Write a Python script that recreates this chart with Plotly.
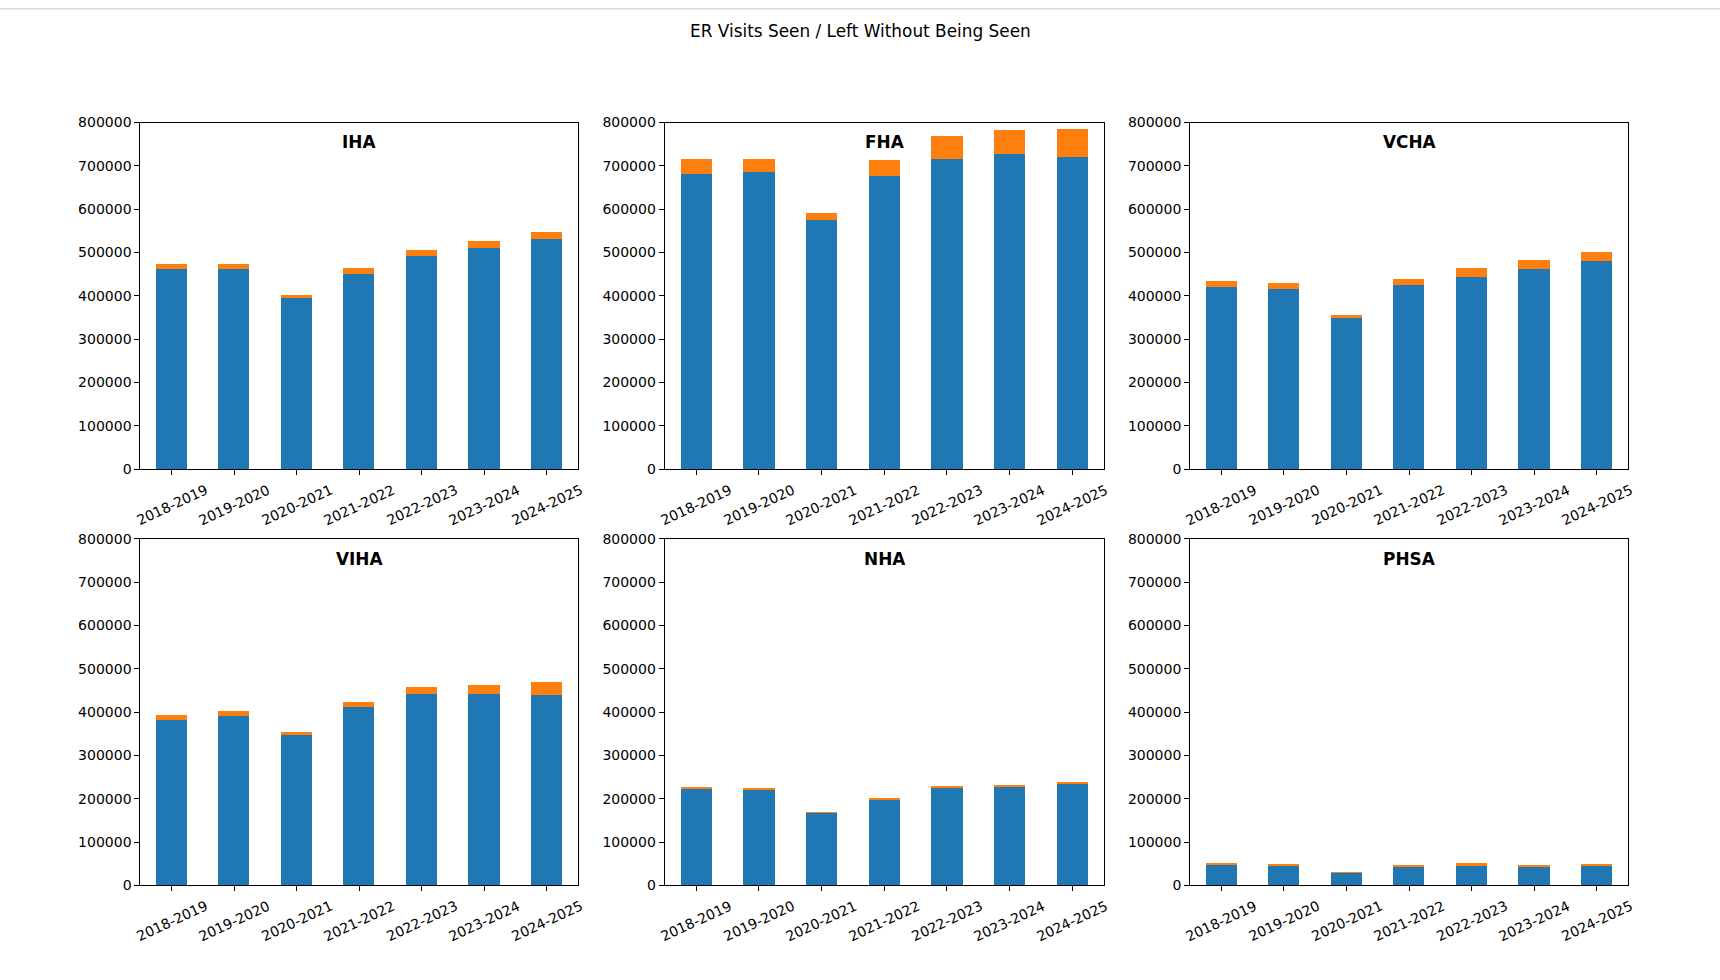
import plotly.graph_objects as go

years = ["2018-2019", "2019-2020", "2020-2021", "2021-2022", "2022-2023", "2023-2024", "2024-2025"]
regions = ["IHA", "FHA", "VCHA", "VIHA", "NHA", "PHSA"]

seen_IHA = [464000, 464000, 395000, 452000, 492000, 512000, 533000]
lwbs_IHA = [11000, 11000, 9000, 14000, 16000, 16000, 16000]
seen_FHA = [683000, 686000, 577000, 678000, 718000, 729000, 722000]
lwbs_FHA = [35000, 32000, 16000, 37000, 53000, 56000, 65000]
seen_VCHA = [422000, 417700, 350800, 427000, 445400, 463800, 482300]
lwbs_VCHA = [14000, 13800, 6900, 13800, 20600, 20800, 20700]
seen_VIHA = [383000, 392300, 348500, 413000, 443000, 443000, 440800]
lwbs_VIHA = [11600, 11500, 6900, 11600, 16200, 20800, 30000]
seen_NHA = [224000, 221500, 168000, 198500, 226000, 228500, 235400]
lwbs_NHA = [2000, 2500, 500, 2300, 4800, 4500, 4600]
seen_PHSA = [49200, 46200, 30000, 43800, 43800, 43800, 43800]
lwbs_PHSA = [1600, 2300, 500, 2400, 7000, 2400, 4700]

y_ticks = [0, 100000, 200000, 300000, 400000, 500000, 600000, 700000, 800000]
title = "ER Visits Seen / Left Without Being Seen"

seen = [seen_IHA, seen_FHA, seen_VCHA, seen_VIHA, seen_NHA, seen_PHSA]
lwbs = [lwbs_IHA, lwbs_FHA, lwbs_VCHA, lwbs_VIHA, lwbs_NHA, lwbs_PHSA]

W, H = 1720, 980
BLUE = "#1f77b4"
ORANGE = "#ff7f0e"
FONT = "DejaVu Sans"

# vertical correction for the capture (observed = A*y + B)
A, B = 0.9838, 7.75


def Y(px):
    """target pixel row (from top) -> paper fraction"""
    return 1 - ((px - B) / A) / H


col_px = [(140.4, 578.1), (664.7, 1103.5), (1190.2, 1627.9)]
row_px = [(122.3, 469.0), (538.7, 885.2)]

fig = go.Figure()
annotations = []
layout_axes = {}

for i, reg in enumerate(regions):
    r, c = divmod(i, 3)
    n = i + 1
    xa = "x" if n == 1 else f"x{n}"
    ya = "y" if n == 1 else f"y{n}"
    xkey = "xaxis" if n == 1 else f"xaxis{n}"
    ykey = "yaxis" if n == 1 else f"yaxis{n}"
    x0, x1 = col_px[c]
    yt, yb = row_px[r]
    xd = [x0 / W, x1 / W]
    yd = [Y(yb), Y(yt)]

    fig.add_trace(go.Bar(x=years, y=seen[i], marker=dict(color=BLUE, line=dict(width=0)),
                         width=0.5, xaxis=xa, yaxis=ya, showlegend=False, name="Seen"))
    fig.add_trace(go.Bar(x=years, y=lwbs[i], marker=dict(color=ORANGE, line=dict(width=0)),
                         width=0.5, xaxis=xa, yaxis=ya, showlegend=False, name="LWBS"))

    layout_axes[xkey] = dict(domain=xd, anchor=ya, type="category", range=[-0.5, 6.5],
                             showline=True, linecolor="black", linewidth=1.1, mirror=True,
                             ticks="outside", ticklen=5, tickwidth=1.1, tickcolor="black",
                             showticklabels=False, showgrid=False, zeroline=False, fixedrange=True)
    layout_axes[ykey] = dict(domain=yd, anchor=xa, range=[0, 800000], tickvals=y_ticks,
                             ticktext=[str(v) for v in y_ticks],
                             showline=True, linecolor="black", linewidth=1.1, mirror=True,
                             ticks="outside", ticklen=5, tickwidth=1.1, tickcolor="black",
                             tickfont=dict(family=FONT, size=14, color="black"),
                             showgrid=False, zeroline=False, fixedrange=True)

    # panel title
    annotations.append(dict(text=f"<b>{reg}</b>", x=(xd[0] + xd[1]) / 2, y=Y(yt + 19.7),
                            xref="paper", yref="paper", xanchor="center", yanchor="middle",
                            showarrow=False, font=dict(family=FONT, size=16.9, color="black")))
    # rotated x tick labels
    for yr in years:
        annotations.append(dict(text=yr, x=yr, xref=xa, y=Y(yb + 9.8), yref="paper",
                                xanchor="center", yanchor="top", textangle=-25, showarrow=False,
                                font=dict(family=FONT, size=14, color="black")))

annotations.append(dict(text=title, x=0.5, y=Y(30.7), xref="paper", yref="paper",
                        xanchor="center", yanchor="middle", showarrow=False,
                        font=dict(family=FONT, size=16.9, color="black")))

fig.update_layout(width=W, height=H, margin=dict(l=0, r=0, t=0, b=0),
                  paper_bgcolor="white", plot_bgcolor="white", barmode="stack", bargap=0,
                  annotations=annotations,
                  shapes=[dict(type="line", xref="paper", yref="paper", x0=0, x1=1,
                               y0=1 - 0.8 / H, y1=1 - 0.8 / H,
                               line=dict(color="#d9d9d9", width=1.5))],
                  **layout_axes)

post = (
    "var d=document.getElementById('{plot_id}');"
    "document.body.appendChild(d);"
    "Array.from(document.body.children).forEach(function(e){if(e!==d && e.tagName!=='SCRIPT'){e.style.display='none';}});"
    "[document.documentElement, document.body].forEach(function(e){"
    "e.style.margin='0';e.style.padding='0';e.style.overflow='hidden';"
    "e.style.width='1720px';e.style.height='980px';});"
    "d.style.position='absolute';d.style.left='0px';d.style.top='0px';d.style.margin='0';"
)
fig.write_html("out.html", post_script=post, config={"displayModeBar": False})
